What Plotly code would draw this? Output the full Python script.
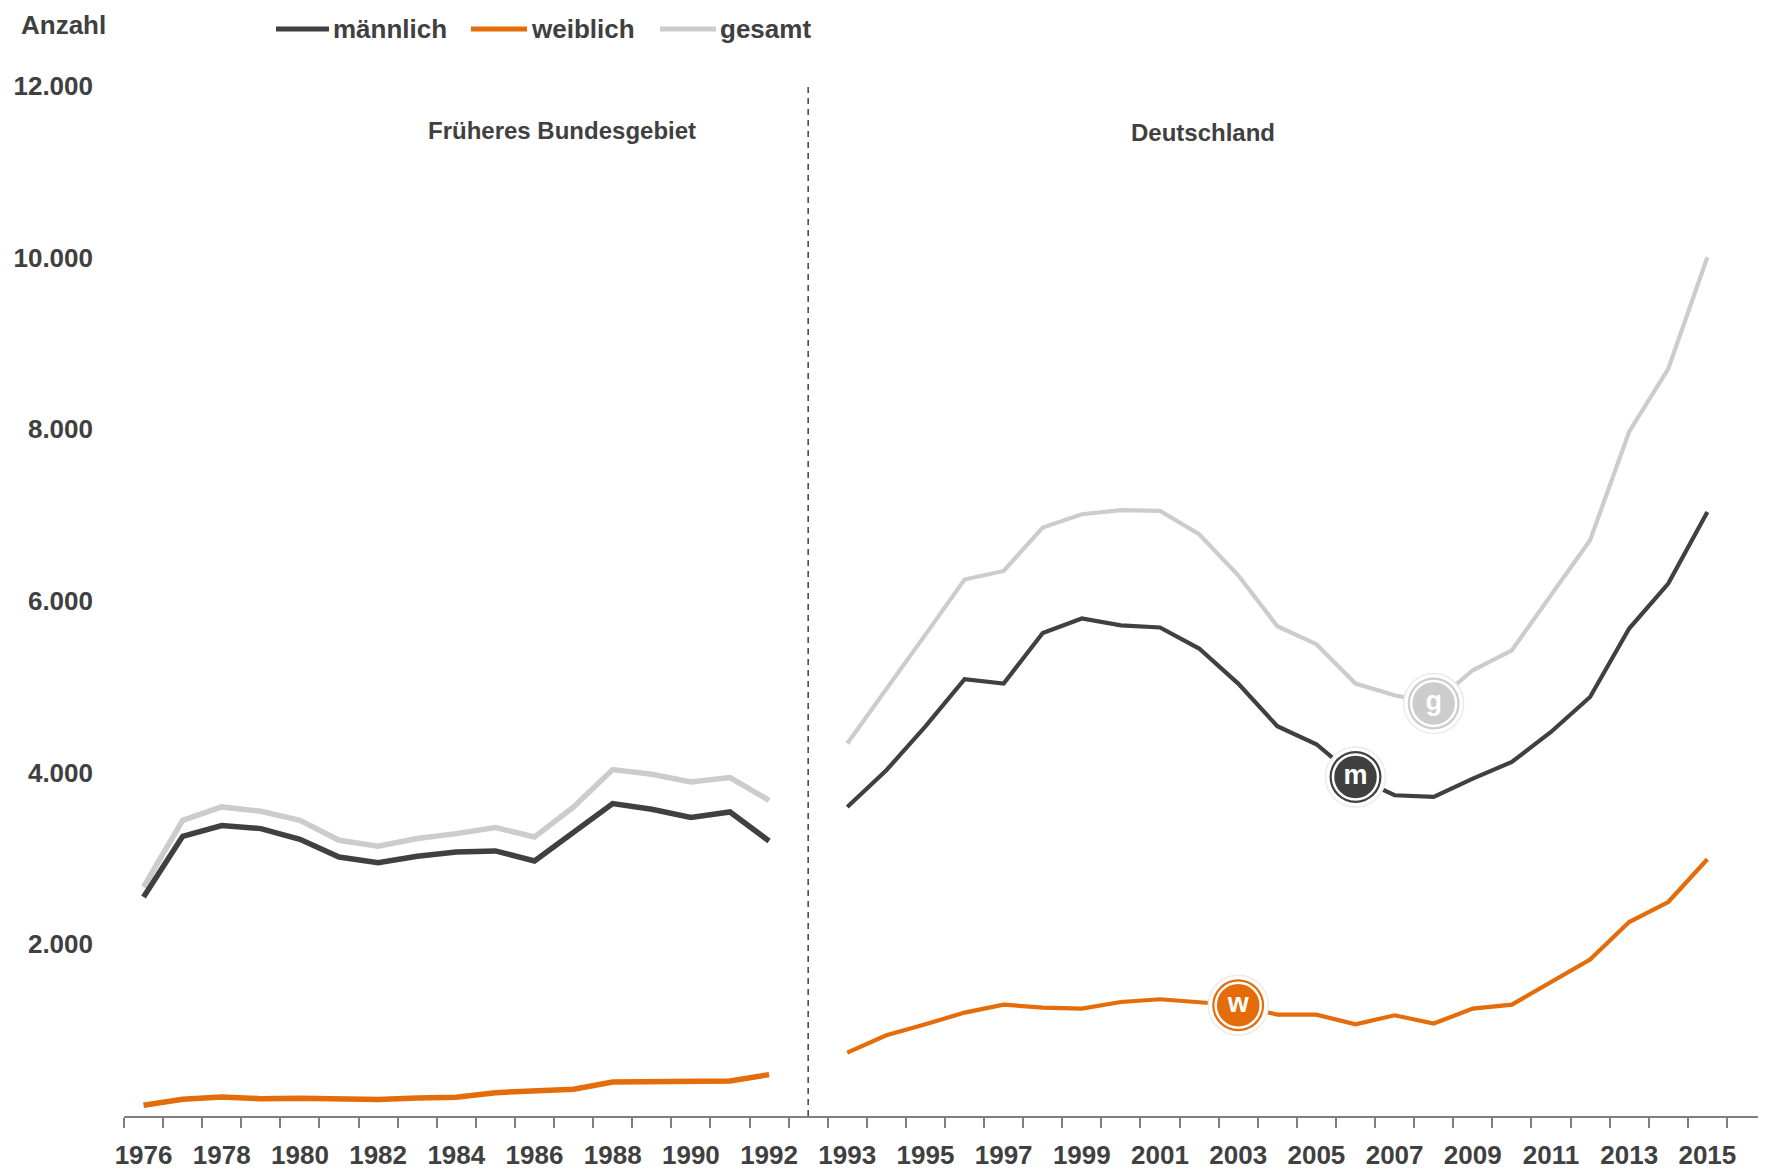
import plotly.graph_objects as go

# ---- data ----
years_west = list(range(1976, 1993))
years_de = list(range(1993, 2016))

m_west = [2552, 3259, 3383, 3348, 3224, 3018, 2952, 3026, 3076, 3088, 2971, 3309, 3640, 3574, 3477, 3542, 3204]
w_west = [125, 195, 221, 202, 206, 191, 191, 210, 218, 272, 288, 311, 396, 401, 416, 408, 482]
g_west = [2668, 3445, 3601, 3550, 3445, 3212, 3142, 3232, 3290, 3361, 3251, 3601, 4036, 3981, 3892, 3943, 3678]

m_de = [3601, 4028, 4540, 5089, 5038, 5628, 5796, 5717, 5691, 5446, 5038, 4541, 4331, 3950, 3737, 3717, 3931, 4125, 4474, 4882, 5679, 6203, 7038]
w_de = [738, 940, 1068, 1205, 1298, 1263, 1251, 1328, 1360, 1321, 1290, 1181, 1181, 1068, 1173, 1077, 1251, 1298, 1561, 1822, 2260, 2493, 2991]
g_de = [4339, 4968, 5608, 6250, 6350, 6856, 7011, 7058, 7049, 6778, 6300, 5706, 5497, 5038, 4902, 4805, 5193, 5426, 6067, 6708, 7972, 8706, 10005]

series_names = ["männlich", "weiblich", "gesamt"]
badge_letters = ["m", "w", "g"]
badge_years = [2006, 2003, 2008]
y_ticks = [2000, 4000, 6000, 8000, 10000, 12000]
region_labels = ["Früheres Bundesgebiet", "Deutschland"]

# ---- styling ----
colors = ["#404040", "#E46C0A", "#CCCCCC"]
FONT = "Liberation Sans Narrow, Liberation Sans, Arial, sans-serif"
TXT = "#404040"
OFF = 8                      # page body margin
W, H = 1766 - OFF, 1176 - OFF
ML, MR, MT = 124 - OFF, 0, 86 - OFF
MB = H - (1116 - OFF)
PW, PH = W - ML - MR, H - MT - MB


def px_x(p):
    """screen pixel -> paper fraction"""
    return (p - OFF - ML) / PW


def px_y(p):
    return (H - MB - (p - OFF)) / PH


GAP = 1  # one empty category slot between the two periods


def pos(year):
    if year <= years_west[-1]:
        return year - years_west[0]
    return len(years_west) + GAP + (year - years_de[0])


n_slots = len(years_west) + GAP + len(years_de) + 1
x_west = [pos(y) for y in years_west]
x_de = [pos(y) for y in years_de]
sep_x = len(years_west) + GAP / 2 - 0.5

tick_years = years_west[::2] + years_de[::2]
tick_pos = [pos(y) for y in tick_years]

fig = go.Figure()

west = [m_west, w_west, g_west]
de = [m_de, w_de, g_de]
order = [2, 0, 1]  # gesamt at back
for i in order:
    fig.add_trace(go.Scatter(
        x=x_west, y=west[i], mode="lines", name=series_names[i],
        legendgroup=series_names[i], showlegend=False,
        line=dict(color=colors[i], width=5.5), hoverinfo="skip"))
    fig.add_trace(go.Scatter(
        x=x_de, y=de[i], mode="lines", name=series_names[i],
        legendgroup=series_names[i], showlegend=False,
        line=dict(color=colors[i], width=4.2), hoverinfo="skip"))

# badges
for i in range(3):
    yr = badge_years[i]
    yv = de[i][years_de.index(yr)]
    fig.add_trace(go.Scatter(
        x=[pos(yr)], y=[yv], mode="markers", showlegend=False, hoverinfo="skip",
        marker=dict(size=60, color="white", line=dict(color="#EBEBEB", width=1.5))))
    fig.add_trace(go.Scatter(
        x=[pos(yr)], y=[yv], mode="markers", showlegend=False, hoverinfo="skip",
        marker=dict(size=52, color=colors[i], line=dict(width=0))))
    fig.add_trace(go.Scatter(
        x=[pos(yr)], y=[yv], mode="markers+text", showlegend=False, hoverinfo="skip",
        text=[badge_letters[i]], textposition="middle center",
        textfont=dict(family="Liberation Sans, Arial, sans-serif", size=27, color="white"),
        marker=dict(size=45, color=colors[i], line=dict(color="white", width=2.5))))

# separator dashed line
fig.add_shape(type="line", xref="x", yref="y", x0=sep_x, x1=sep_x, y0=0, y1=y_ticks[-1],
              line=dict(color="#404040", width=1.5, dash="6px,5px"))

# region labels
fig.add_annotation(x=px_x(562), y=px_y(130), xref="paper", yref="paper", text=region_labels[0],
                   showarrow=False, xanchor="center", yanchor="middle",
                   font=dict(family=FONT, size=24, color=TXT, weight="bold"))
fig.add_annotation(x=px_x(1203), y=px_y(132), xref="paper", yref="paper", text=region_labels[1],
                   showarrow=False, xanchor="center", yanchor="middle",
                   font=dict(family=FONT, size=24, color=TXT, weight="bold"))

# axis title "Anzahl"
fig.add_annotation(x=px_x(19), y=px_y(25), xref="paper", yref="paper", text="Anzahl", showarrow=False,
                   xanchor="left", yanchor="middle",
                   font=dict(family=FONT, size=26, color=TXT, weight="bold"))

# legend (line sample + label)
leg_line_x = [(276, 329), (471, 527), (660, 716)]
leg_y = 29
for i in range(3):
    x0, x1 = leg_line_x[i]
    fig.add_shape(type="line", xref="paper", yref="paper", x0=px_x(x0), x1=px_x(x1),
                  y0=px_y(leg_y), y1=px_y(leg_y), line=dict(color=colors[i], width=5))
    fig.add_annotation(x=px_x(x1 + 2), y=px_y(leg_y), xref="paper", yref="paper",
                       text=series_names[i], showarrow=False, xanchor="left", yanchor="middle",
                       font=dict(family=FONT, size=26, color=TXT, weight="bold"))

fig.update_layout(
    width=W, height=H,
    margin=dict(l=ML, r=MR, t=MT, b=MB, autoexpand=False),
    plot_bgcolor="white", paper_bgcolor="white",
    separators=",.",
    showlegend=False,
    font=dict(family=FONT, size=26, color=TXT, weight="bold"),
    xaxis=dict(range=[-0.5, n_slots - 0.5], showgrid=False, zeroline=False, automargin=False,
               showline=True, linecolor="#7F7F7F", linewidth=2,
               tickmode="array", tickvals=tick_pos, ticktext=[str(t) for t in tick_years],
               ticks="", ticklabelstandoff=15, tickangle=0,
               tickfont=dict(family=FONT, size=26, color=TXT, weight="bold"),
               minor=dict(tickmode="linear", tick0=-0.5, dtick=1, ticks="outside",
                          ticklen=10, tickwidth=1.5, tickcolor="#7F7F7F", showgrid=False)),
    yaxis=dict(range=[0, y_ticks[-1]], showgrid=False, zeroline=False, showline=False,
               automargin=False,
               tickmode="array", tickvals=y_ticks, tickformat=",d",
               ticks="", ticklabelstandoff=30,
               tickfont=dict(family=FONT, size=26, color=TXT, weight="bold")),
)

fig.write_html("out.html")
